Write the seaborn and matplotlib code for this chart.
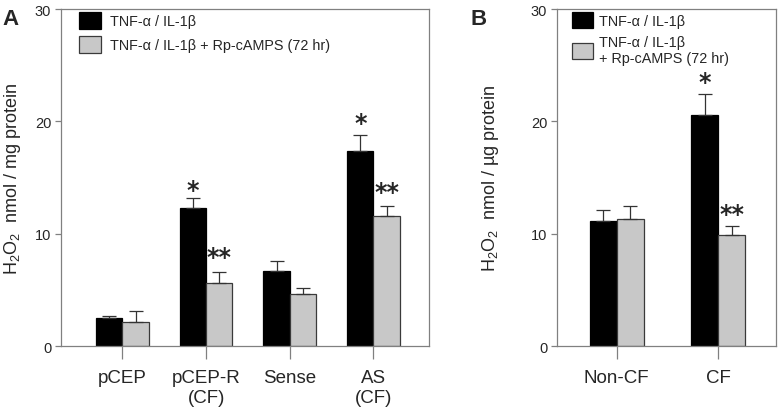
import matplotlib
matplotlib.use("Agg")
import matplotlib.pyplot as plt
import pandas as pd
import seaborn as sns
from matplotlib.patches import Patch

# Data
TREATMENTS = ["TNF-α / IL-1β", "TNF-α / IL-1β + Rp-cAMPS (72 hr)"]

A_GROUPS = ["pCEP\n", "pCEP-R\n(CF)", "Sense\n", "AS\n(CF)"]
A_BLACK = [2.45, 12.25, 6.65, 17.35]
A_BLACK_ERR = [0.2, 0.92, 0.88, 1.45]
A_GRAY = [2.15, 5.6, 4.65, 11.55]
A_GRAY_ERR = [0.95, 0.98, 0.5, 0.92]
A_STARS_BLACK = ["", "*", "", "*"]
A_STARS_GRAY = ["", "**", "", "**"]

B_GROUPS = ["Non-CF", "CF"]
B_BLACK = [11.15, 20.55]
B_BLACK_ERR = [1.0, 1.9]
B_GRAY = [11.3, 9.9]
B_GRAY_ERR = [1.12, 0.78]
B_STARS_BLACK = ["", "*"]
B_STARS_GRAY = ["", "**"]

BLACK = "#000000"
GRAY = "#c8c8c8"
SPINE = "#808080"

sns.set_theme(style="white")
plt.rcParams["font.family"] = ["Liberation Sans", "DejaVu Sans"]
plt.rcParams["mathtext.fontset"] = "custom"
plt.rcParams["mathtext.rm"] = "Liberation Sans"
plt.rcParams["mathtext.it"] = "Liberation Sans:italic"


def make_df(groups, black, gray):
    rows = []
    for g, v in zip(groups, black):
        rows.append({"group": g, "treatment": TREATMENTS[0], "value": v})
    for g, v in zip(groups, gray):
        rows.append({"group": g, "treatment": TREATMENTS[1], "value": v})
    return pd.DataFrame(rows)


def draw_panel(ax, groups, black, black_err, gray, gray_err,
               stars_black, stars_gray, width, xlim, ylabel, star_pad):
    df = make_df(groups, black, gray)
    sns.barplot(data=df, x="group", y="value", hue="treatment",
                palette=[BLACK, GRAY], width=width, errorbar=None,
                saturation=1, legend=False, ax=ax)

    edge = [BLACK, "#3a3a3a"]
    errs = [black_err, gray_err]
    vals = [black, gray]
    stars = [stars_black, stars_gray]
    bar_sets = list(ax.containers)
    for i, cont in enumerate(bar_sets):
        xs = []
        for bar in cont:
            bar.set_edgecolor(edge[i])
            bar.set_linewidth(0.9)
            xs.append(bar.get_x() + bar.get_width() / 2)
        ax.errorbar(xs, vals[i], yerr=[[0] * len(xs), errs[i]], fmt="none",
                    ecolor="#333333", elinewidth=0.9, capsize=5.3,
                    capthick=0.9, zorder=1)
        for x, v, e, s, p in zip(xs, vals[i], errs[i], stars[i], star_pad[i]):
            if s:
                ax.text(x, v + e + p, s, ha="center", va="center",
                        fontsize=17, fontweight="bold", family="DejaVu Sans")

    ax.set_ylim(0, 30)
    ax.set_yticks([0, 10, 20, 30])
    ax.set_xlim(*xlim)
    ax.set_xlabel("")
    ax.set_ylabel(ylabel, fontsize=13)
    for sp in ax.spines.values():
        sp.set_visible(True)
        sp.set_color(SPINE)
        sp.set_linewidth(0.9)
    ax.tick_params(axis="y", direction="out", length=4, width=0.9,
                   color=SPINE, labelsize=10.5, pad=3, left=True)
    ax.tick_params(axis="x", direction="out", length=9.5, width=0.9,
                   color=SPINE, labelsize=13.5, pad=7, bottom=True)


fig = plt.figure(figsize=(7.78, 4.14), dpi=100)
ax_a = fig.add_axes([0.0784, 0.1618, 0.4734, 0.814])
ax_b = fig.add_axes([0.716, 0.1618, 0.2808, 0.814])

draw_panel(ax_a, A_GROUPS, A_BLACK, A_BLACK_ERR, A_GRAY, A_GRAY_ERR,
           A_STARS_BLACK, A_STARS_GRAY, 0.63, (-0.734, 3.667),
           r"$\mathrm{H_2O_2}$  nmol / mg protein",
           [[0, 0.76, 0, 1.03], [0, 1.32, 0, 1.26]])
draw_panel(ax_b, B_GROUPS, B_BLACK, B_BLACK_ERR, B_GRAY, B_GRAY_ERR,
           B_STARS_BLACK, B_STARS_GRAY, 0.53, (-0.588, 1.563),
           r"$\mathrm{H_2O_2}$  nmol / µg protein",
           [[0, 1.03], [0, 1.05]])

ax_a.yaxis.set_label_coords(-0.102, 0.5)
ax_b.yaxis.set_label_coords(-0.255, 0.5)

# Legends
handles = [Patch(facecolor=BLACK, edgecolor=BLACK, linewidth=0.9),
           Patch(facecolor=GRAY, edgecolor="#3a3a3a", linewidth=0.9)]
ax_a.legend(handles, TREATMENTS, loc="upper left",
            bbox_to_anchor=(0.049, 0.991), frameon=False, fontsize=10.4,
            handlelength=1.5, handleheight=1.4, handletextpad=0.65,
            labelspacing=0.5, borderpad=0, borderaxespad=0)
ax_b.legend(handles, ["TNF-α / IL-1β", "TNF-α / IL-1β\n+ Rp-cAMPS (72 hr)"],
            loc="upper left", bbox_to_anchor=(0.067, 0.991), frameon=False,
            fontsize=10.4, handlelength=1.45, handleheight=1.3,
            handletextpad=0.45, labelspacing=0.5, borderpad=0, borderaxespad=0)

fig.text(0.003, 0.978, "A", fontsize=16, fontweight="bold", va="top")
fig.text(0.605, 0.978, "B", fontsize=16, fontweight="bold", va="top")

fig.savefig("out.png", dpi=100)
